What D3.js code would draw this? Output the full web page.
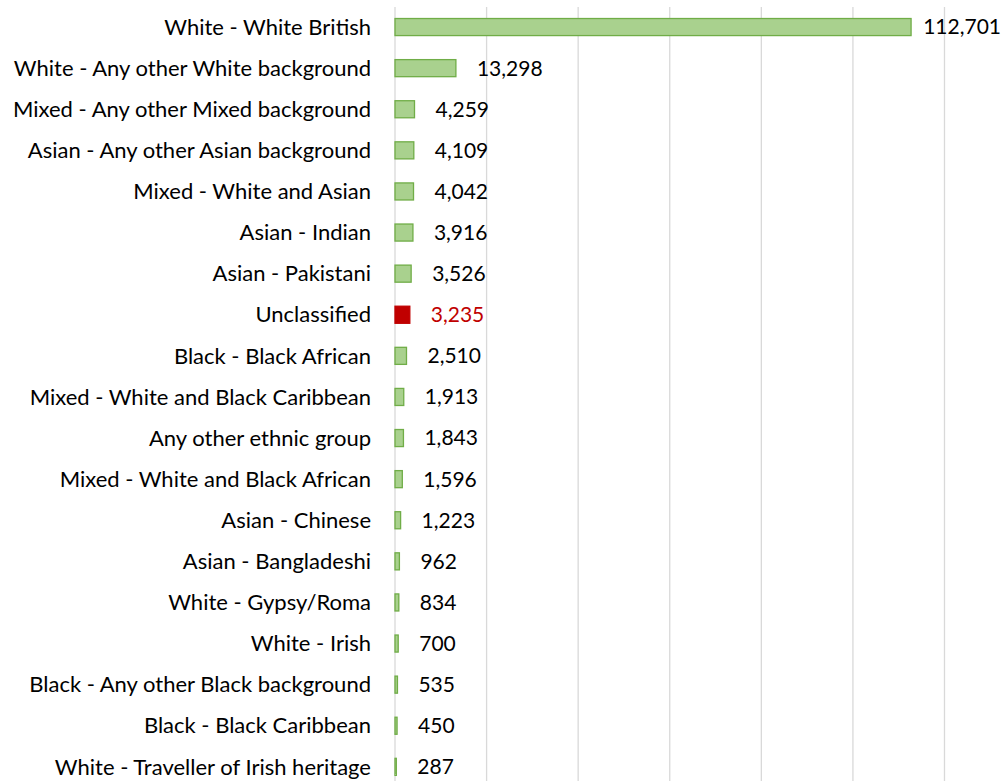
<!DOCTYPE html>
<html>
<head>
<meta charset="utf-8">
<script src="https://cdn.jsdelivr.net/npm/d3@7"></script>
<style>
  body { margin: 0; background: #fff; }
  text { font-family: Lato, "Open Sans", sans-serif; }
</style>
</head>
<body>
<script>
'use strict';

// categories, top to bottom
const groups = [
  "White - White British",
  "White - Any other White background",
  "Mixed - Any other Mixed background",
  "Asian - Any other Asian background",
  "Mixed - White and Asian",
  "Asian - Indian",
  "Asian - Pakistani",
  "Unclassified",
  "Black - Black African",
  "Mixed - White and Black Caribbean",
  "Any other ethnic group",
  "Mixed - White and Black African",
  "Asian - Chinese",
  "Asian - Bangladeshi",
  "White - Gypsy/Roma",
  "White - Irish",
  "Black - Any other Black background",
  "Black - Black Caribbean",
  "White - Traveller of Irish heritage"
];

const counts = [112701, 13298, 4259, 4109, 4042, 3916, 3526, 3235, 2510, 1913,
  1843, 1596, 1223, 962, 834, 700, 535, 450, 287];

const highlighted = ["Unclassified"];

const gridTicks = [0, 20000, 40000, 60000, 80000, 100000, 120000];

const width = 1003, height = 781;

const svg = d3.select('body').append('svg')
  .attr('width', width)
  .attr('height', height);

// scales
const xScale = d3.scaleLinear()
  .domain([0, 120000])
  .range([395, 944.5]);

const yScale = d3.scaleBand()
  .domain(groups)
  .range([6.5, 6.5 + 41.1 * groups.length])
  .paddingInner(0.585)
  .paddingOuter(0.2925);

// vertical gridlines
svg.append('g')
  .selectAll('line')
  .data(gridTicks)
  .enter()
  .append('line')
  .attr('x1', d => xScale(d))
  .attr('x2', d => xScale(d))
  .attr('y1', 7)
  .attr('y2', height)
  .attr('stroke', '#d9d9d9')
  .attr('stroke-width', 1.3);

// bars
svg.append('g')
  .selectAll('rect')
  .data(groups)
  .enter()
  .append('rect')
  .attr('x', xScale(0))
  .attr('y', d => yScale(d))
  .attr('width', (d, i) => Math.max(xScale(counts[i]) - xScale(0), 0.5))
  .attr('height', yScale.bandwidth())
  .attr('fill', d => highlighted.includes(d) ? '#c00000' : '#a9d18e')
  .attr('stroke', d => highlighted.includes(d) ? '#c00000' : '#70ad47')
  .attr('stroke-width', 1.3);

// category labels
svg.append('g')
  .selectAll('text')
  .data(groups)
  .enter()
  .append('text')
  .attr('x', 371)
  .attr('y', d => yScale(d) + yScale.bandwidth() / 2)
  .attr('dy', '0.35em')
  .attr('text-anchor', 'end')
  .style('font-size', '22px')
  .attr('fill', '#000')
  .text(d => d);

// value labels
const fmt = d3.format(',');
svg.append('g')
  .selectAll('text')
  .data(groups)
  .enter()
  .append('text')
  .attr('x', (d, i) => xScale(counts[i]) + 21)
  .attr('y', d => yScale(d) + yScale.bandwidth() / 2)
  .attr('dy', '0.35em')
  .style('font-size', '21px')
  .attr('fill', d => highlighted.includes(d) ? '#c00000' : '#000')
  .text((d, i) => fmt(counts[i]))
  .each(function () {
    // keep labels inside the picture
    const w = this.getComputedTextLength();
    const x = +this.getAttribute('x');
    if (x + w > width - 2) this.setAttribute('x', width - 2 - w);
  });
</script>
</body>
</html>
